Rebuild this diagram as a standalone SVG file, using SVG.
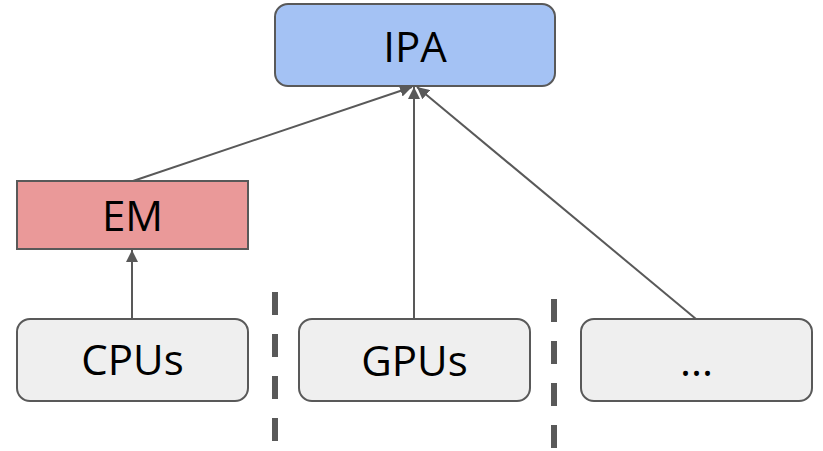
<svg xmlns="http://www.w3.org/2000/svg" width="823" height="451" viewBox="0 0 823 451">
  <style>
    .box { stroke: #595959; stroke-width: 2; }
    .ipa { fill: #a4c2f4; }
    .em { fill: #ea9999; }
    .dev { fill: #efefef; }
    .lbl { font-family: "Open Sans", "Liberation Sans", sans-serif; font-size: 42px; fill: #000; text-anchor: middle; }
    .edge { stroke: #595959; stroke-width: 2; fill: none; marker-end: url(#arrow); }
    .sep { stroke: #595959; stroke-width: 6; stroke-dasharray: 23 19; }
  </style>
  <defs>
    <marker id="arrow" viewBox="0 0 10 10" refX="10" refY="5" markerWidth="6" markerHeight="6" orient="auto" markerUnits="strokeWidth">
      <path d="M0,0 L10,5 L0,10 z" fill="#595959"/>
    </marker>
  </defs>

  <!-- partition lines between device groups -->
  <g id="separators">
    <line class="sep" x1="275" y1="292" x2="275" y2="442"/>
    <line class="sep" x1="554" y1="299" x2="554" y2="449"/>
  </g>

  <g id="connectors">
    <line class="edge" x1="132" y1="319" x2="132" y2="250"/>
    <line class="edge" x1="133" y1="181" x2="412" y2="87"/>
    <line class="edge" x1="414" y1="319" x2="414" y2="87"/>
    <line class="edge" x1="696" y1="319" x2="417" y2="87"/>
  </g>

  <g id="ipa">
    <rect class="box ipa" x="275" y="4" width="280" height="82" rx="13"/>
    <text class="lbl" x="415" y="62">IPA</text>
  </g>

  <g id="em">
    <rect class="box em" x="17" y="181" width="231" height="68"/>
    <text class="lbl" x="132.5" y="231">EM</text>
  </g>

  <g id="cpus">
    <rect class="box dev" x="17" y="319" width="231" height="82" rx="13"/>
    <text class="lbl" x="132.5" y="375">CPUs</text>
  </g>

  <g id="gpus">
    <rect class="box dev" x="299" y="319" width="231" height="82" rx="13"/>
    <text class="lbl" x="414.5" y="376">GPUs</text>
  </g>

  <g id="others">
    <rect class="box dev" x="581" y="319" width="231" height="82" rx="13"/>
    <text class="lbl" x="696.5" y="376">...</text>
  </g>
</svg>
